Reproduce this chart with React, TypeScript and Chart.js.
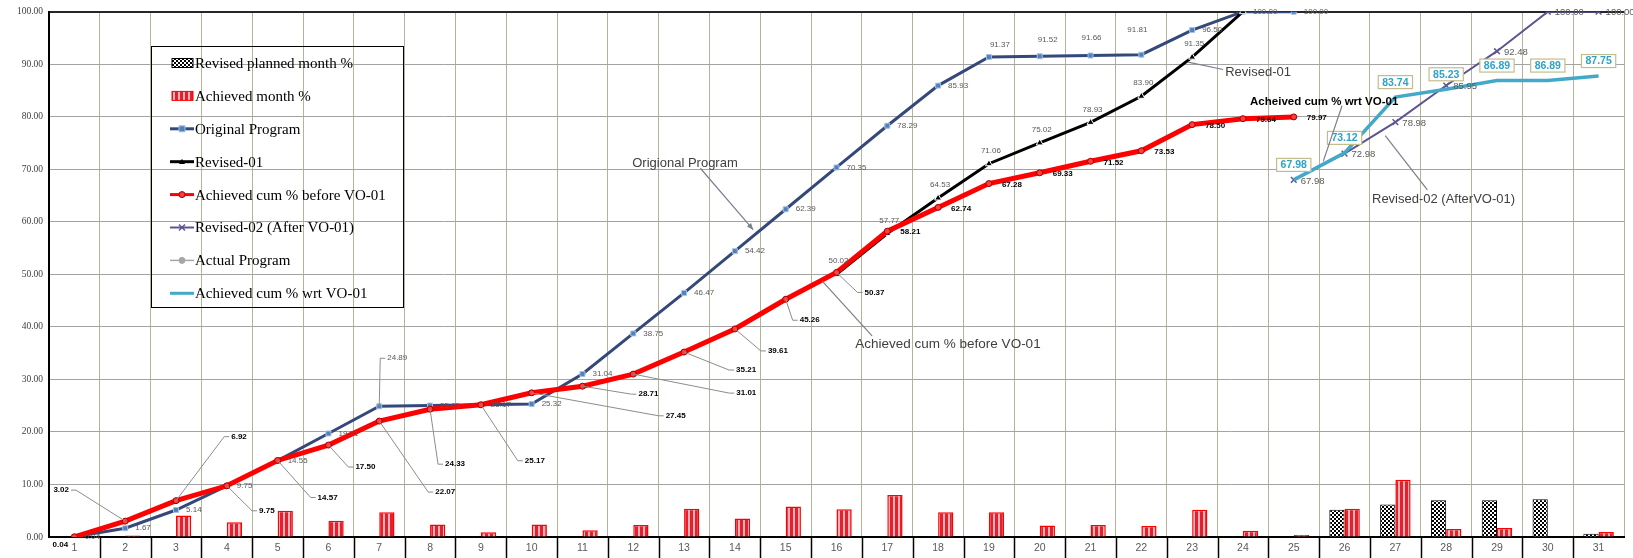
import React, { useEffect, useRef } from 'react';
import { Chart, registerables } from 'chart.js';

Chart.register(...registerables);

// ---------- data ----------
const categories = ['1','2','3','4','5','6','7','8','9','10','11','12','13','14','15','16','17','18','19','20','21','22','23','24','25','26','27','28','29','30','31'];

const revisedPlannedMonth = [null,null,null,null,null,null,null,null,null,null,null,null,null,null,null,null,null,null,null,null,null,null,null,null,null,5.2,6.2,7.0,7.0,7.2,0.6];
const achievedMonth = [0.04,0.3,4.1,2.8,5.0,3.1,4.7,2.4,0.9,2.4,1.3,2.3,5.4,3.5,5.8,5.3,8.0,4.7,4.7,2.2,2.3,2.1,5.2,1.2,0.4,5.4,10.9,1.5,1.7,null,0.95];
const originalProgram = [0.04,1.67,5.14,9.75,14.55,19.71,24.89,25.03,25.17,25.32,31.04,38.75,46.47,54.42,62.39,70.35,78.29,85.93,91.37,91.52,91.66,91.81,96.50,100.00,100.00,null,null,null,null,null,null];
const revised01 = [null,null,null,null,null,null,null,null,null,null,null,null,null,null,null,50.02,57.77,64.53,71.06,75.02,78.93,83.90,91.35,100.00,null,null,null,null,null,null,null];
const achievedCumBefore = [0.04,3.02,6.92,9.75,14.57,17.50,22.07,24.33,25.17,27.45,28.71,31.01,35.21,39.61,45.26,50.37,58.21,62.74,67.28,69.33,71.52,73.53,78.50,79.64,79.97,null,null,null,null,null,null];
const revised02 = [null,null,null,null,null,null,null,null,null,null,null,null,null,null,null,null,null,null,null,null,null,null,null,null,67.98,72.98,78.98,85.95,92.48,100.00,100.00];
const actualProgram: (number | null)[] = [null,null,null,null,null,null,null,null,null,null,null,null,null,null,null,null,null,null,null,null,null,null,null,null,null,null,null,null,null,null,null];
const achievedCumWrt = [null,null,null,null,null,null,null,null,null,null,null,null,null,null,null,null,null,null,null,null,null,null,null,null,67.98,73.12,83.74,85.23,86.89,86.89,87.75];

// ---------- label placement (style, not data) ----------
type Ov = [number, number, boolean?];
interface LabelStyle {
  font: string; color: string; mode: 'right' | 'above' | 'box';
  dx: number; dy: number; overrides?: Record<number, Ov>; skip?: number[];
}
const SANS = '"Liberation Sans", Arial, sans-serif';
const SERIF = '"Liberation Serif", "Times New Roman", serif';

const origLabels: LabelStyle = {
  font: `8px ${SANS}`, color: '#595959', mode: 'right', dx: 10, dy: 0,
  overrides: { 6: [18, -48, true], 18: [11, -12], 19: [8, -16], 20: [1, -18], 21: [-4, -25] },
};
const rev01Labels: LabelStyle = { font: `8px ${SANS}`, color: '#595959', mode: 'above', dx: 2, dy: -13, skip: [23] };
const redLabels: LabelStyle = {
  font: `bold 8px ${SANS}`, color: '#000', mode: 'right', dx: 13, dy: 1,
  overrides: {
    0: [-14, 8], 1: [-64, -31, true], 2: [63, -64, true], 3: [40, 25, true], 4: [50, 37, true],
    5: [37, 22, true], 6: [66, 71, true], 7: [25, 55, true], 8: [54, 56, true], 9: [144, 23, true],
    10: [66, 8, true], 11: [113, 19, true], 12: [62, 18, true], 13: [43, 22, true], 14: [24, 21, true], 15: [38, 20, true],
  },
};
const rev02Labels: LabelStyle = { font: `9.5px ${SANS}`, color: '#595959', mode: 'right', dx: 7, dy: 1 };
const tealLabels: LabelStyle = { font: `bold 10.5px ${SANS}`, color: '#2FA2C6', mode: 'box', dx: 0, dy: -15 };
const labelStyles: (LabelStyle | null)[] = [null, null, origLabels, rev01Labels, redLabels, rev02Labels, null, tealLabels];

// callouts in (category index, value) space
const callouts = [
  { text: 'Origional Program', at: [10.98, 71.2], font: `13px ${SANS}`, color: '#404040', from: [12.32, 70.2], to: [13.36, 58.5], arrow: true },
  { text: 'Achieved cum % before VO-01', at: [15.37, 36.75], font: `13.5px ${SANS}`, color: '#404040', from: [15.70, 38.3], to: [14.72, 48.7], arrow: false },
  { text: 'Revised-01', at: [22.65, 88.5], font: `13px ${SANS}`, color: '#404040', from: [22.61, 89.0], to: [21.92, 90.4], arrow: false },
  { text: 'Acheived cum % wrt VO-01', at: [23.14, 82.8], font: `bold 11.5px ${SANS}`, color: '#000', from: [24.95, 82.1], to: [24.58, 71.5], arrow: false },
  { text: 'Revised-02 (AfterVO-01)', at: [25.54, 64.2], font: `13px ${SANS}`, color: '#404040', from: [26.63, 66.1], to: [25.8, 76.4], arrow: false },
];

function makePattern(kind: 'checker' | 'stripe'): any {
  const c = document.createElement('canvas');
  if (kind === 'checker') { c.width = 4; c.height = 4; } else { c.width = 5; c.height = 4; }
  const g = c.getContext('2d')!;
  if (kind === 'checker') {
    g.fillStyle = '#ffffff'; g.fillRect(0, 0, 4, 4);
    g.fillStyle = '#000000'; g.fillRect(0, 0, 2, 2); g.fillRect(2, 2, 2, 2);
  } else {
    g.fillStyle = '#E5202E'; g.fillRect(0, 0, 5, 4);
    g.fillStyle = '#F6B3BA'; g.fillRect(3, 0, 2, 4);
  }
  return g.createPattern(c, 'repeat') || '#000';
}

function drawMarker(ctx: CanvasRenderingContext2D, style: string, x: number, y: number, r: number, fill: string, stroke: string) {
  ctx.save();
  ctx.fillStyle = fill; ctx.strokeStyle = stroke; ctx.lineWidth = 1;
  ctx.beginPath();
  if (style === 'rect') { ctx.rect(x - r, y - r, 2 * r, 2 * r); ctx.fill(); ctx.stroke(); }
  else if (style === 'triangle') { ctx.moveTo(x, y - r); ctx.lineTo(x + r, y + r * 0.8); ctx.lineTo(x - r, y + r * 0.8); ctx.closePath(); ctx.fill(); }
  else if (style === 'circle') { ctx.arc(x, y, r, 0, Math.PI * 2); ctx.fill(); ctx.stroke(); }
  else if (style === 'crossRot') { ctx.lineWidth = 1.5; ctx.moveTo(x - r, y - r); ctx.lineTo(x + r, y + r); ctx.moveTo(x + r, y - r); ctx.lineTo(x - r, y + r); ctx.stroke(); }
  ctx.restore();
}

const dataLabelPlugin = {
  id: 'dataLabels',
  afterDatasetsDraw(chart: any) {
    const ctx: CanvasRenderingContext2D = chart.ctx;
    ctx.save();
    chart.data.datasets.forEach((ds: any, di: number) => {
      const st = labelStyles[di];
      if (!st) return;
      const meta = chart.getDatasetMeta(di);
      ds.data.forEach((v: number | null, i: number) => {
        if (v == null || (st.skip && st.skip.includes(i))) return;
        const el = meta.data[i];
        if (!el) return;
        const px = el.x, py = el.y;
        const text = v.toFixed(2);
        ctx.font = st.font; ctx.textBaseline = 'middle';
        const w = ctx.measureText(text).width;
        const ov = st.overrides ? st.overrides[i] : undefined;
        if (ov) {
          const lx = px + ov[0], ly = py + ov[1];
          if (ov[2]) {
            const ax = ov[0] >= 0 ? lx - w / 2 - 2 : lx + w / 2 + 2;
            const ex = ov[0] >= 0 ? ax - 5 : ax + 5;
            ctx.strokeStyle = '#8c8c8c'; ctx.lineWidth = 1;
            ctx.beginPath(); ctx.moveTo(px, py); ctx.lineTo(ex, ly); ctx.lineTo(ax, ly); ctx.stroke();
          }
          ctx.fillStyle = st.color; ctx.textAlign = 'center';
          ctx.fillText(text, lx, ly);
          return;
        }
        if (st.mode === 'right') {
          ctx.fillStyle = st.color; ctx.textAlign = 'left';
          ctx.fillText(text, px + st.dx, py + st.dy);
        } else if (st.mode === 'above') {
          ctx.fillStyle = st.color; ctx.textAlign = 'center';
          ctx.fillText(text, px + st.dx, py + st.dy);
        } else {
          const cx = px + st.dx, cy = py + st.dy;
          const bw = w + 8, bh = 13;
          ctx.fillStyle = '#ffffff';
          ctx.fillRect(cx - bw / 2, cy - bh / 2, bw, bh);
          ctx.strokeStyle = '#C3BD8C'; ctx.lineWidth = 1.2;
          ctx.strokeRect(cx - bw / 2, cy - bh / 2, bw, bh);
          ctx.fillStyle = st.color; ctx.textAlign = 'center';
          ctx.fillText(text, cx, cy + 0.5);
        }
      });
    });
    ctx.restore();
  },
};

const decorPlugin = {
  id: 'decor',
  afterDraw(chart: any) {
    const ctx: CanvasRenderingContext2D = chart.ctx;
    const xs = chart.scales.x, ys = chart.scales.y;
    const area = chart.chartArea;
    ctx.save();
    // x-axis dividers in label row
    ctx.strokeStyle = '#000'; ctx.lineWidth = 1.5;
    for (let i = 1; i < categories.length; i++) {
      const x = Math.round((xs.getPixelForValue(i - 1) + xs.getPixelForValue(i)) / 2) + 0.5;
      ctx.beginPath(); ctx.moveTo(x, area.bottom); ctx.lineTo(x, chart.height); ctx.stroke();
    }
    // callouts
    callouts.forEach((c) => {
      const fx = xs.getPixelForValue(c.from[0]), fy = ys.getPixelForValue(c.from[1]);
      const tx = xs.getPixelForValue(c.to[0]), ty = ys.getPixelForValue(c.to[1]);
      ctx.strokeStyle = '#7a7f8c'; ctx.lineWidth = 1.2;
      ctx.beginPath(); ctx.moveTo(fx, fy); ctx.lineTo(tx, ty); ctx.stroke();
      if (c.arrow) {
        const a = Math.atan2(ty - fy, tx - fx);
        ctx.fillStyle = '#7a7f8c';
        ctx.beginPath();
        ctx.moveTo(tx, ty);
        ctx.lineTo(tx - 7 * Math.cos(a - 0.4), ty - 7 * Math.sin(a - 0.4));
        ctx.lineTo(tx - 7 * Math.cos(a + 0.4), ty - 7 * Math.sin(a + 0.4));
        ctx.closePath(); ctx.fill();
      }
      ctx.font = c.font; ctx.fillStyle = c.color; ctx.textAlign = 'left'; ctx.textBaseline = 'middle';
      ctx.fillText(c.text, xs.getPixelForValue(c.at[0]), ys.getPixelForValue(c.at[1]));
    });
    // legend
    const lx = 151.5, ly = 46.5, lw = 252, lh = 261;
    ctx.strokeStyle = '#000'; ctx.lineWidth = 1;
    ctx.strokeRect(lx, ly, lw, lh);
    ctx.font = `15px ${SERIF}`; ctx.textBaseline = 'middle'; ctx.textAlign = 'left';
    chart.data.datasets.forEach((ds: any, i: number) => {
      const y = 63 + i * 32.9;
      if (ds.type === 'bar') {
        ctx.fillStyle = ds.backgroundColor;
        ctx.fillRect(172, y - 4.5, 21, 9);
        ctx.strokeStyle = ds.borderColor; ctx.lineWidth = 1;
        ctx.strokeRect(172, y - 4.5, 21, 9);
      } else {
        ctx.strokeStyle = ds.borderColor; ctx.lineWidth = Math.min(ds.borderWidth, 3);
        ctx.beginPath(); ctx.moveTo(170, y); ctx.lineTo(194, y); ctx.stroke();
        if (ds.pointRadius > 0) {
          drawMarker(ctx, ds.pointStyle, 182, y, 3, ds.pointBackgroundColor || ds.borderColor, ds.pointBorderColor || ds.borderColor);
        }
      }
      ctx.fillStyle = '#000';
      ctx.fillText(ds.label, 195, y + 1);
    });
    ctx.restore();
  },
};

export default function App() {
  const ref = useRef<HTMLCanvasElement>(null);
  useEffect(() => {
    document.body.style.margin = '0';
    const checker = makePattern('checker');
    const stripe = makePattern('stripe');
    const chart = new Chart(ref.current as HTMLCanvasElement, {
      type: 'bar',
      data: {
        labels: categories,
        datasets: [
          { type: 'bar', label: 'Revised planned month %', data: revisedPlannedMonth, backgroundColor: checker, borderColor: '#000', borderWidth: 1, order: 20, categoryPercentage: 0.6, barPercentage: 1 },
          { type: 'bar', label: 'Achieved month %', data: achievedMonth, backgroundColor: stripe, borderColor: '#FF0000', borderWidth: 1.5, order: 20, categoryPercentage: 0.6, barPercentage: 1 },
          { type: 'line', label: 'Original Program', data: originalProgram, borderColor: '#34497A', borderWidth: 3, pointStyle: 'rect', pointRadius: 3.5, pointBackgroundColor: '#4F81BD', pointBorderColor: '#A9C1E3', pointBorderWidth: 1, order: 6, tension: 0 },
          { type: 'line', label: 'Revised-01', data: revised01, borderColor: '#000000', borderWidth: 3, pointStyle: 'triangle', pointRadius: 4, pointBackgroundColor: '#000', pointBorderColor: '#ffffff', pointBorderWidth: 1, order: 5, tension: 0 },
          { type: 'line', label: 'Achieved cum % before VO-01', data: achievedCumBefore, borderColor: '#FF0000', borderWidth: 5, pointStyle: 'circle', pointRadius: 3, pointBackgroundColor: '#FF3B3B', pointBorderColor: '#9E0000', pointBorderWidth: 1, order: 2, tension: 0 },
          { type: 'line', label: 'Revised-02 (After VO-01)', data: revised02, borderColor: '#5E5590', borderWidth: 2, pointStyle: 'crossRot', pointRadius: 4, pointBackgroundColor: '#5E5590', pointBorderColor: '#5E5590', pointBorderWidth: 1.5, order: 4, tension: 0 },
          { type: 'line', label: 'Actual Program', data: actualProgram, borderColor: '#A6A6A6', borderWidth: 1.5, pointStyle: 'circle', pointRadius: 2, pointBackgroundColor: '#A6A6A6', pointBorderColor: '#A6A6A6', order: 3, tension: 0 },
          { type: 'line', label: 'Achieved cum % wrt VO-01', data: achievedCumWrt, borderColor: '#43A9C8', borderWidth: 3.5, pointRadius: 0, order: 1, tension: 0 },
        ] as any,
      },
      options: {
        responsive: false,
        animation: false,
        devicePixelRatio: 1,
        layout: { padding: { top: 8, right: 9, left: 0, bottom: 0 } },
        plugins: { legend: { display: false }, tooltip: { enabled: false }, title: { display: false } },
        scales: {
          x: {
            offset: true,
            grid: { color: '#B5B49B', lineWidth: 1, drawTicks: false, offset: true },
            border: { color: '#000', width: 2 },
            ticks: { color: '#595959', font: { family: 'Liberation Sans', size: 10.5 }, padding: 5, maxRotation: 0, autoSkip: false },
            afterFit: (s: any) => { s.height = 21; },
          },
          y: {
            min: 0, max: 100,
            grid: {
              color: (c: any) => (c.tick && c.tick.value === 100 ? '#262626' : '#A3A3A3'),
              lineWidth: (c: any) => (c.tick && c.tick.value === 100 ? 2 : 1),
              drawTicks: false,
            },
            border: { color: '#000', width: 2 },
            ticks: { stepSize: 10, padding: 6, color: '#404040', font: { family: 'Liberation Serif', size: 9.5 }, callback: (v: any) => Number(v).toFixed(2) },
            afterFit: (s: any) => { s.width = 49; },
          },
        },
      } as any,
      plugins: [dataLabelPlugin, decorPlugin],
    });
    return () => chart.destroy();
  }, []);
  return (
    <div style={{ width: 1633, height: 558 }}>
      <canvas ref={ref} width={1633} height={558} style={{ display: 'block' }} />
    </div>
  );
}
